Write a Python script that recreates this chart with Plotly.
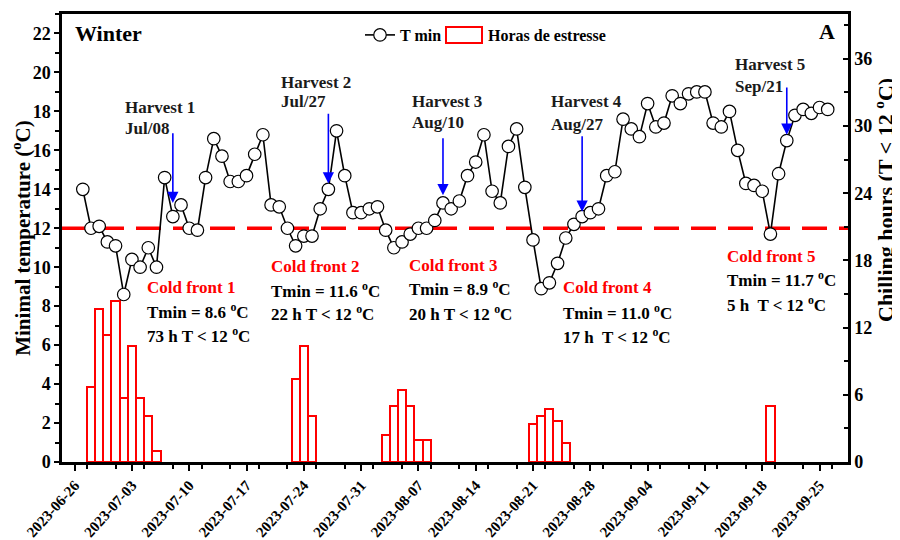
import pandas as pd
import plotly.graph_objects as go

# ---------------- data ----------------
START_DATE = "2023-06-27"
TMIN = [14.0, 12.0, 12.1, 11.3, 11.1, 8.6, 10.4, 10.0, 11.0, 10.0,
        14.6, 12.6, 13.2, 12.0, 11.9, 14.6, 16.6, 15.7, 14.4, 14.4,
        14.7, 15.8, 16.8, 13.2, 13.1, 12.0, 11.1, 11.6, 11.6, 13.0,
        14.0, 17.0, 14.7, 12.8, 12.8, 13.0, 13.1, 11.9, 11.0, 11.3,
        11.7, 12.0, 12.0, 12.4, 13.3, 13.0, 13.4, 14.7, 15.4, 16.8,
        13.9, 13.3, 16.2, 17.1, 14.1, 11.4, 8.9, 9.2, 10.2, 11.5,
        12.2, 12.6, 12.8, 13.0, 14.7, 14.9, 17.6, 17.1, 16.7, 18.4,
        17.2, 17.4, 18.8, 18.4, 18.9, 19.0, 19.0, 17.4, 17.2, 18.0,
        16.0, 14.3, 14.2, 13.9, 11.7, 14.8, 16.5, 17.8, 18.1, 17.9,
        18.2, 18.1]
DATES = pd.date_range(START_DATE, periods=len(TMIN), freq="D")

BAR_DATES = ["2023-06-28", "2023-06-29", "2023-06-30", "2023-07-01", "2023-07-02",
             "2023-07-03", "2023-07-04", "2023-07-05", "2023-07-06",
             "2023-07-23", "2023-07-24", "2023-07-25",
             "2023-08-03", "2023-08-04", "2023-08-05", "2023-08-06", "2023-08-07", "2023-08-08",
             "2023-08-21", "2023-08-22", "2023-08-23", "2023-08-24", "2023-08-25",
             "2023-09-19"]
BAR_HOURS = [6.7, 13.7, 11.3, 14.4, 5.7, 10.4, 5.7, 4.1, 1.0,
             7.4, 10.4, 4.1,
             2.4, 5.0, 6.4, 5.0, 2.0, 2.0,
             3.4, 4.1, 4.7, 3.7, 1.7,
             5.0]

THRESHOLD = 12
HARVEST_LABELS = ["Harvest 1", "Harvest 2", "Harvest 3", "Harvest 4", "Harvest 5"]
HARVEST_DATES_TXT = ["Jul/08", "Jul/27", "Aug/10", "Aug/27", "Sep/21"]
HARVEST_DATES = ["2023-07-08", "2023-07-27", "2023-08-10", "2023-08-27", "2023-09-21"]
ARROW_TIP = [13.3, 14.3, 13.7, 12.85, 16.8]
ARROW_TOP = [16.95, 17.95, 16.7, 16.8, 19.3]

FRONT_TITLES = ["Cold front 1", "Cold front 2", "Cold front 3", "Cold front 4", "Cold front 5"]
FRONT_TMIN = ["8.6", "11.6", "8.9", "11.0", "11.7"]
FRONT_HOURS = ["73 h T", "22 h T", "20 h T", "17 h  T", "5 h  T"]

LEGEND_TMIN = "T min"
LEGEND_BARS = "Horas de estresse"
LEFT_TITLE = "Minimal temperature (<sup>o</sup>C)"
RIGHT_TITLE = "Chilling hours (T &lt; 12 <sup>o</sup>C)"

FONT = "Liberation Serif"

# ---------------- figure ----------------
fig = go.Figure()

fig.add_trace(go.Bar(
    x=pd.to_datetime(BAR_DATES), y=BAR_HOURS, yaxis="y",
    width=86400000,
    marker=dict(color="rgba(255,255,255,0)", line=dict(color="#ff0000", width=2)),
    name=LEGEND_BARS, showlegend=False,
))

fig.add_trace(go.Scatter(
    x=DATES, y=TMIN, yaxis="y2", mode="lines+markers",
    line=dict(color="black", width=1.6),
    marker=dict(symbol="circle", size=12.5, color="white", line=dict(color="black", width=1.2)),
    name=LEGEND_TMIN,
))

# page offset (html body margin)
OFF = 8
W, H = 900 - OFF, 540 - OFF
L, R, T, B = 62 - OFF, 52, 14 - OFF, 78
PW, PH = W - L - R, H - T - B


def px(x):
    return (x - OFF - L) / PW


def py(y):
    return (H - B - (y - OFF)) / PH


ann = []


def txt(text, x, y, size=17, color="black", anchor="left", angle=0):
    ann.append(dict(text=text, x=px(x), y=py(y), xref="paper", yref="paper",
                    xanchor=anchor, yanchor="middle", showarrow=False, textangle=angle,
                    font=dict(family=FONT, size=size, color=color, weight="bold")))


txt("Winter", 73, 33, size=22)
txt("A", 837, 32, size=22, anchor="right")
txt(RIGHT_TITLE, 884, 200, size=22, anchor="center", angle=-90)

# legend entry for the bars (wide hollow box + label)
txt(LEGEND_BARS, 486, 35, size=16)
legend_box = dict(type="rect", xref="paper", yref="paper",
                  x0=px(446), x1=px(482), y0=py(43), y1=py(27),
                  line=dict(color="#ff0000", width=2), fillcolor="rgba(0,0,0,0)")

harv_pos = [(123, 107, 128), (279, 82, 102), (410, 102, 123), (549, 102, 124), (733, 64, 86)]
for (hx, hy1, hy2), lab, dt in zip(harv_pos, HARVEST_LABELS, HARVEST_DATES_TXT):
    txt(lab, hx, hy1, size=17, color="#1a1a1a")
    txt(dt, hx, hy2, size=17, color="#1a1a1a")

for d, tip, top in zip(HARVEST_DATES, ARROW_TIP, ARROW_TOP):
    ann.append(dict(x=d, y=tip, xref="x", yref="y2", ax=0, ay=-(top - tip) * PH / 23,
                    axref="pixel", ayref="pixel", text="", showarrow=True,
                    arrowhead=2, arrowsize=1.4, arrowwidth=1.6, arrowcolor="#0000ff"))

front_pos = [(145, 287, 311, 335), (269, 266, 290, 313), (407, 265, 288, 313),
             (561, 287, 312, 336), (725, 256, 279, 304)]
for (fx, y1, y2, y3), t1, t2, t3 in zip(front_pos, FRONT_TITLES, FRONT_TMIN, FRONT_HOURS):
    txt(t1, fx, y1, color="#ff0000")
    txt("Tmin = " + t2 + " <sup>o</sup>C", fx, y2)
    txt(t3 + " &lt; 12 <sup>o</sup>C", fx, y3)

fig.update_layout(
    width=W, height=H,
    margin=dict(l=L, r=R, t=T, b=B),
    plot_bgcolor="white", paper_bgcolor="white",
    font=dict(family=FONT, color="black", weight="bold"),
    bargap=0,
    showlegend=True,
    legend=dict(orientation="h", x=px(360), y=py(35), xanchor="left", yanchor="middle",
                bgcolor="rgba(0,0,0,0)", font=dict(family=FONT, size=16, weight="bold")),
    xaxis=dict(
        type="date",
        range=["2023-06-24 11:00", "2023-09-28 11:30"],
        tick0="2023-06-26", dtick=7 * 86400000, tickformat="%Y-%m-%d",
        tickangle=-48, ticks="outside", ticklen=6, tickwidth=2, tickcolor="black",
        tickfont=dict(family=FONT, size=15, weight="bold"),
        minor=dict(dtick=3.5 * 86400000, ticks="outside", ticklen=4, tickwidth=1.5, tickcolor="black"),
        showline=True, linecolor="black", linewidth=2.5, mirror=True,
        showgrid=False, zeroline=False, automargin=False,
    ),
    yaxis=dict(
        side="right", range=[0, 40], tick0=0, dtick=6,
        ticks="inside", ticklen=5, tickwidth=2, tickcolor="black",
        minor=dict(dtick=3, ticks="inside", ticklen=4, tickwidth=1.5, tickcolor="black"),
        tickfont=dict(family=FONT, size=18, weight="bold"),
        showline=True, linecolor="black", linewidth=2.5,
        showgrid=False, zeroline=False, automargin=False,
    ),
    yaxis2=dict(
        side="left", overlaying="y", anchor="x", range=[0, 23], tick0=0, dtick=2,
        ticks="outside", ticklen=5, tickwidth=2, tickcolor="black",
        minor=dict(dtick=1, ticks="outside", ticklen=4, tickwidth=1.5, tickcolor="black"),
        tickfont=dict(family=FONT, size=18, weight="bold"),
        title=dict(text=LEFT_TITLE, standoff=6,
                   font=dict(family=FONT, size=21, weight="bold")),
        showline=True, linecolor="black", linewidth=2.5,
        showgrid=False, zeroline=False, automargin=False,
    ),
    shapes=[dict(type="line", xref="paper", yref="y2", x0=0, x1=1, y0=THRESHOLD, y1=THRESHOLD,
                 line=dict(color="#ff0000", width=3.5, dash="25px,12px"), layer="below"),
            legend_box],
    annotations=ann,
)

fig.write_html("out.html")
